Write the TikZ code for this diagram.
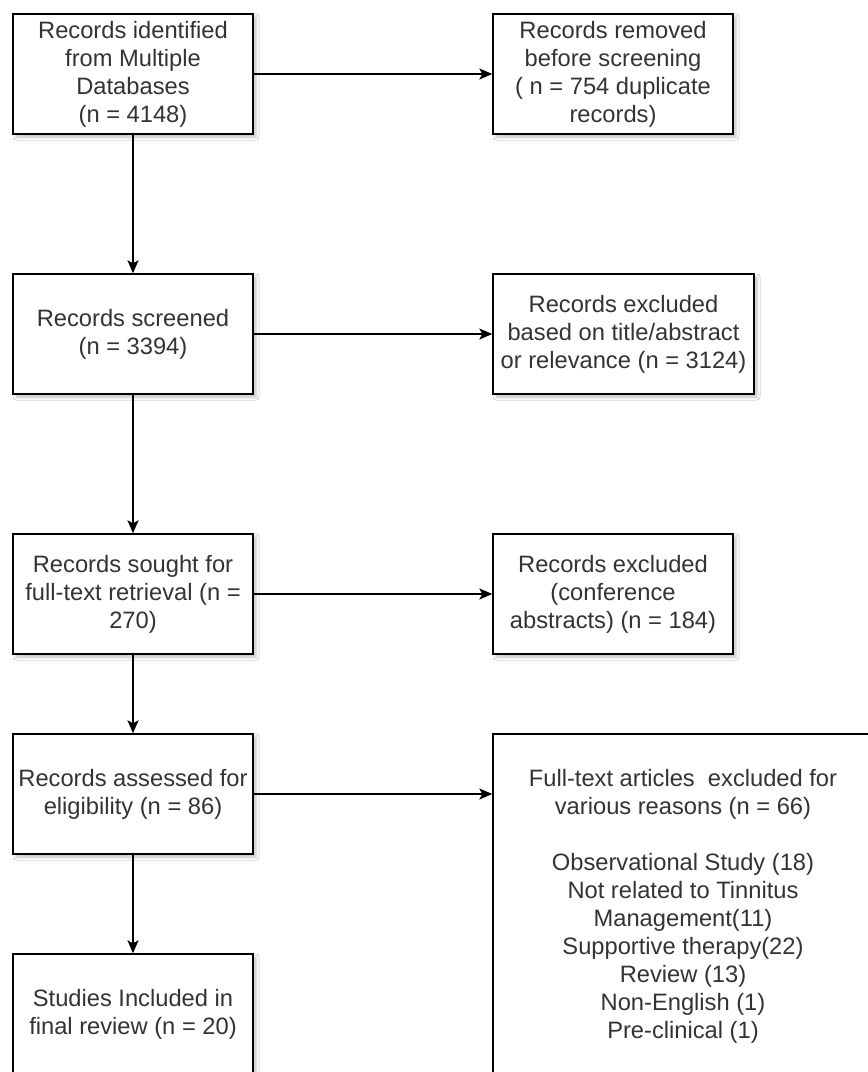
\documentclass[tikz,border=0pt]{standalone}
\usepackage{fontspec}
\setmainfont{Liberation Sans}
\usetikzlibrary{arrows.meta,shadows.blur}
\definecolor{txt}{HTML}{333333}
\begin{document}
\begin{tikzpicture}[x=1pt,y=-1pt,
  box/.style={draw=black, line width=1.4pt, fill=white, align=center, inner sep=0pt,
    text=txt, font=\fontsize{23.7}{28}\selectfont,
    blur shadow={shadow xshift=3pt, shadow yshift=-3pt, shadow blur radius=3pt, shadow opacity=25}},
  conn/.style={line width=1.4pt, -{Stealth[length=13pt,width=11pt,inset=3pt]}}]
\clip (0,0) rectangle (868,1072);
\fill[white] (0,0) rectangle (868,1072);
\node[box, minimum width=240pt, minimum height=120pt] (b1) at (133,74)
  {Records identified\\from Multiple\\Databases\\(n = 4148)};
\node[box, minimum width=240pt, minimum height=120pt] (b2) at (613,74)
  {Records removed\\before screening\\( n = 754 duplicate\\records)};
\node[box, minimum width=240pt, minimum height=120pt] (b3) at (133,334)
  {Records screened\\(n = 3394)};
\node[box, minimum width=261pt, minimum height=120pt] (b4) at (623.5,334)
  {Records excluded\\based on title/abstract\\or relevance (n = 3124)};
\node[box, minimum width=240pt, minimum height=120pt] (b5) at (133,594)
  {Records sought for\\full-text retrieval (n =\\270)};
\node[box, minimum width=240pt, minimum height=120pt] (b6) at (613,594)
  {Records excluded\\(conference\\abstracts) (n = 184)};
\node[box, minimum width=240pt, minimum height=120pt] (b7) at (133,794)
  {Records assessed for\\eligibility (n = 86)};
\node[box, minimum width=380pt, minimum height=344pt] (b8) at (683,906)
  {Full-text articles\ \ excluded for\\various reasons (n = 66)\\[28pt]Observational Study (18)\\Not related to Tinnitus\\Management(11)\\Supportive therapy(22)\\Review (13)\\Non-English (1)\\Pre-clinical (1)};
\node[box, minimum width=240pt, minimum height=120pt] (b9) at (133,1014)
  {Studies Included in\\final review (n = 20)};
\draw[conn] (b1.east) -- (b2.west);
\draw[conn] (b3.east) -- (b4.west);
\draw[conn] (b5.east) -- (b6.west);
\draw[conn] (b7.east) -- (b7.east -| b8.west);
\draw[conn] (b1.south) -- (b3.north);
\draw[conn] (b3.south) -- (b5.north);
\draw[conn] (b5.south) -- (b7.north);
\draw[conn] (b7.south) -- (b9.north);
\end{tikzpicture}
\end{document}
